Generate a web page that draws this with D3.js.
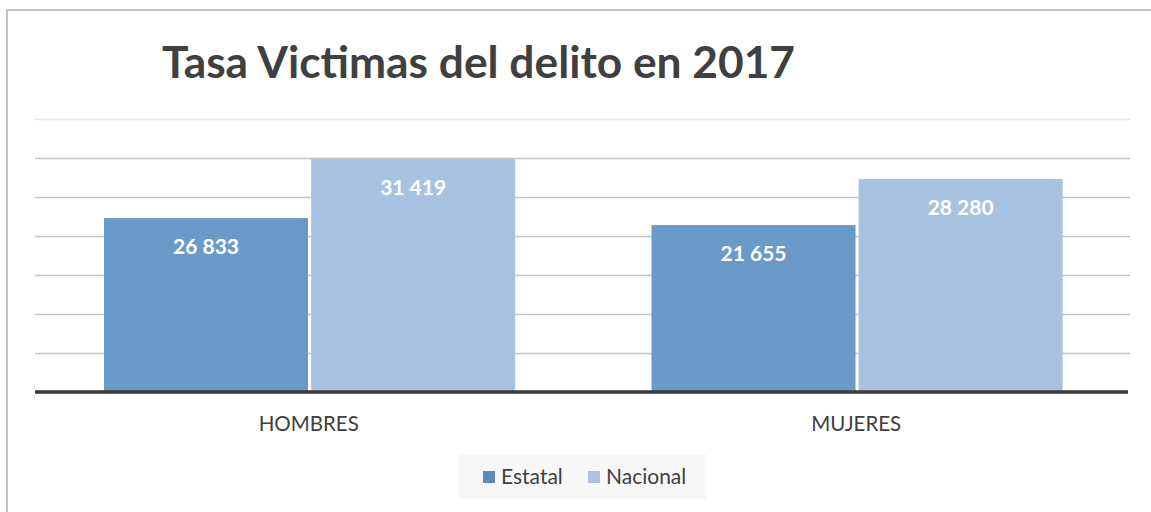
<!DOCTYPE html>
<html>
<head>
<meta charset="utf-8">
<script src="https://cdn.jsdelivr.net/npm/d3@7"></script>
<style>
  body { margin: 0; background: #fff; }
  svg { display: block; font-family: Lato, "Open Sans", sans-serif; }
</style>
</head>
<body>
<div id="wrapper"></div>
<script>
// data
const categories = ["HOMBRES", "MUJERES"]
const series = ["Estatal", "Nacional"]
// numbers printed on the bars
const labelEstatal = [26833, 21655]
const labelNacional = [31419, 28280]
// bar heights as drawn in the picture (they do not follow the printed numbers)
const barEstatal = [22300, 21400]
const barNacional = [29870, 27300]
const yTicks = [5000, 10000, 15000, 20000, 25000, 30000, 35000]
const titleText = "Tasa Victimas del delito en 2017"

const colors = { Estatal: "#6a9bc8", Nacional: "#a8c3e2" }
const swatchColors = { Estatal: "#5f89b8", Nacional: "#aec2da" }

const rows = categories.map((c, i) => ({
  category: c,
  values: [
    { key: "Estatal", bar: barEstatal[i], label: labelEstatal[i] },
    { key: "Nacional", bar: barNacional[i], label: labelNacional[i] },
  ],
}))

// dimensions
let dimensions = {
  width: 1151,
  height: 512,
  margin: { top: 119, right: 21, bottom: 120, left: 35 },
}
dimensions.boundedWidth = dimensions.width - dimensions.margin.left - dimensions.margin.right
dimensions.boundedHeight = dimensions.height - dimensions.margin.top - dimensions.margin.bottom

const wrapper = d3.select("#wrapper")
  .append("svg")
  .attr("width", dimensions.width)
  .attr("height", dimensions.height)

// outer frame (top + left edges visible)
wrapper.append("path")
  .attr("d", "M7 512 V10 H1151")
  .attr("fill", "none")
  .attr("stroke", "#c3c3c3")
  .attr("stroke-width", 2)

// title
wrapper.append("text")
  .attr("x", 162)
  .attr("y", 78)
  .attr("fill", "#404040")
  .style("font-weight", "bold")
  .style("font-size", "43px")
  .attr("textLength", 633)
  .attr("lengthAdjust", "spacingAndGlyphs")
  .text(titleText)

const bounds = wrapper.append("g")
  .attr("transform", `translate(${dimensions.margin.left},${dimensions.margin.top})`)

// scales
const yScale = d3.scaleLinear()
  .domain([0, 35000])
  .range([dimensions.boundedHeight, 0])

const x0 = d3.scaleBand()
  .domain(categories)
  .range([0, dimensions.boundedWidth])

const x1 = d3.scaleBand()
  .domain(series)
  .range([x0.step() * 0.126, x0.step() * 0.877])
  .paddingInner(0.015)

// grid
const yGrid = bounds.append("g")
  .call(d3.axisLeft(yScale).tickValues(yTicks).tickSize(-dimensions.boundedWidth).tickFormat(""))
yGrid.select(".domain").remove()
yGrid.selectAll(".tick line")
  .attr("stroke", "#c4c4c4")
  .attr("stroke-width", 1.6)
yGrid.selectAll(".tick").filter(d => d === 35000).select("line")
  .attr("stroke", "#e6e6e6")

// bars
const groups = bounds.selectAll(".cat")
  .data(rows)
  .join("g")
  .attr("class", "cat")
  .attr("transform", d => `translate(${x0(d.category)},0)`)

groups.selectAll("rect")
  .data(d => d.values)
  .join("rect")
  .attr("x", d => x1(d.key))
  .attr("width", x1.bandwidth())
  .attr("y", d => yScale(d.bar))
  .attr("height", d => yScale(0) - yScale(d.bar))
  .attr("fill", d => colors[d.key])

const fmt = d3.formatLocale({ decimal: ".", thousands: " ", grouping: [3], currency: ["", ""] }).format(",d")

groups.selectAll(".lbl")
  .data(d => d.values)
  .join("text")
  .attr("class", "lbl")
  .attr("x", d => x1(d.key) + x1.bandwidth() / 2)
  .attr("y", d => yScale(d.bar) + 36)
  .attr("text-anchor", "middle")
  .attr("fill", "#fff")
  .style("font-weight", "bold")
  .style("font-size", "21px")
  .text(d => fmt(d.label))

// baseline
bounds.append("line")
  .attr("x1", 0)
  .attr("x2", dimensions.boundedWidth - 2)
  .attr("y1", yScale(0))
  .attr("y2", yScale(0))
  .attr("stroke", "#3a3a3a")
  .attr("stroke-width", 3.5)

// x axis labels
const xAxis = bounds.append("g")
  .attr("transform", `translate(0,${dimensions.boundedHeight})`)
  .call(d3.axisBottom(x0).tickSize(0).tickPadding(0))
xAxis.select(".domain").remove()
xAxis.selectAll("text")
  .attr("dy", 0)
  .attr("y", 39)
  .attr("fill", "#404040")
  .style("font-size", "20.5px")
  .style("font-family", "Lato, sans-serif")

// legend
const legend = wrapper.append("g")
legend.append("rect")
  .attr("x", 458)
  .attr("y", 454)
  .attr("width", 248)
  .attr("height", 45)
  .attr("fill", "#f7f7f7")

const legendX = [483, 588]
series.forEach((s, i) => {
  legend.append("rect")
    .attr("x", legendX[i])
    .attr("y", 471)
    .attr("width", 12)
    .attr("height", 12)
    .attr("fill", swatchColors[s])
  legend.append("text")
    .attr("x", legendX[i] + 18)
    .attr("y", 484)
    .attr("fill", "#404040")
    .style("font-size", "21px")
    .text(s)
})
</script>
</body>
</html>
